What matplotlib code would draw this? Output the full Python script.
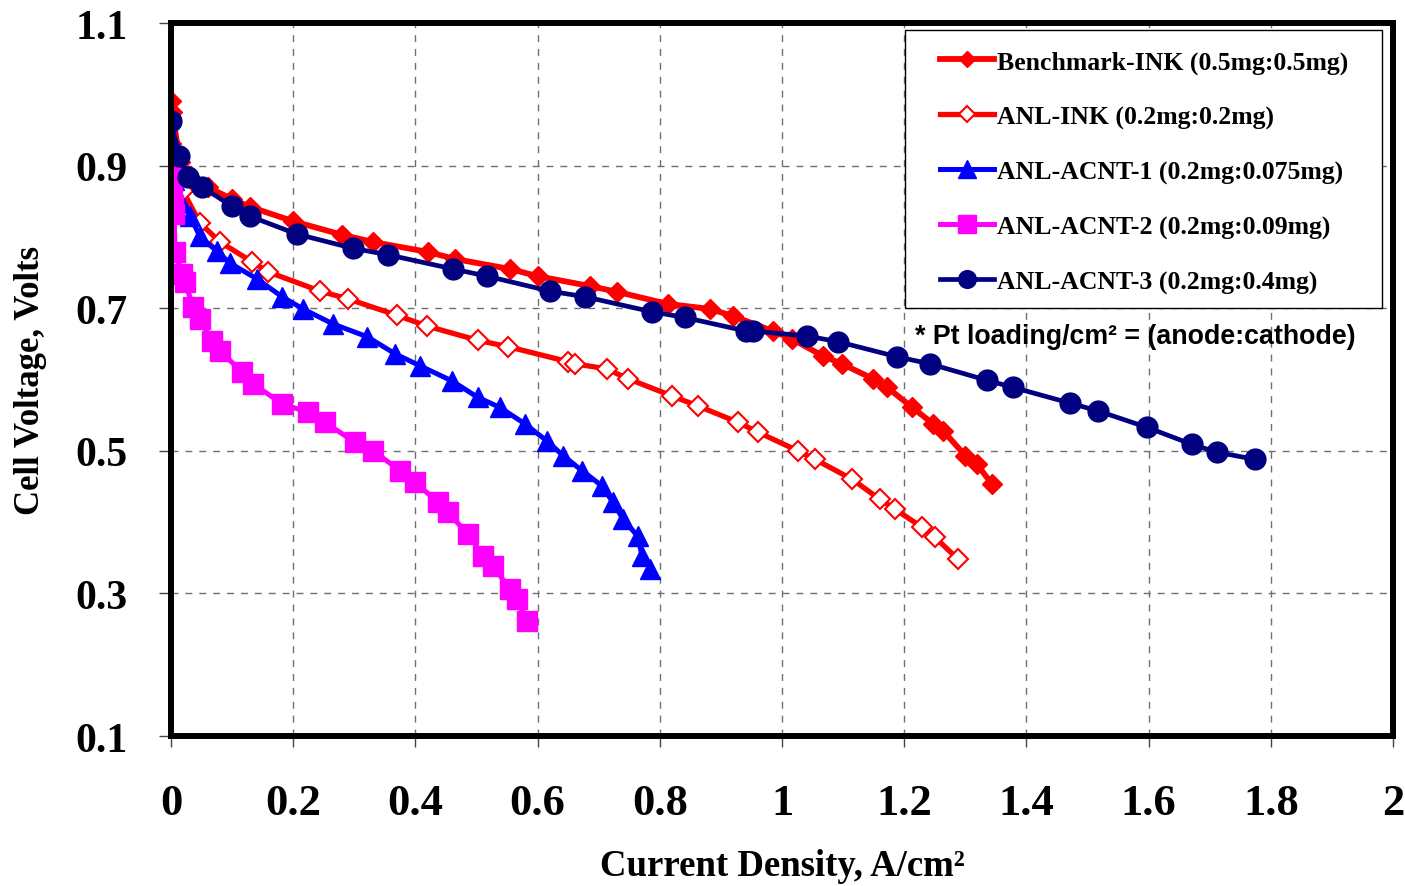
import matplotlib
matplotlib.use("Agg")
import matplotlib.pyplot as plt
from matplotlib.patches import Rectangle

# Polarisationskurven, Werte
bench_x = [0, 0.002, 0.015, 0.03, 0.06, 0.1, 0.13, 0.2, 0.28, 0.33, 0.42, 0.465, 0.555, 0.60,
           0.686, 0.73, 0.813, 0.882, 0.92, 0.985, 1.016, 1.067, 1.098, 1.149, 1.172, 1.213,
           1.247, 1.264, 1.30, 1.319, 1.344]
bench_y = [0.99, 0.975, 0.905, 0.885, 0.87, 0.853, 0.842, 0.822, 0.803, 0.793, 0.779, 0.769,
           0.755, 0.745, 0.731, 0.723, 0.706, 0.699, 0.689, 0.668, 0.657, 0.633, 0.622, 0.601,
           0.589, 0.561, 0.538, 0.528, 0.493, 0.481, 0.453]

ink_x = [0, 0.005, 0.02, 0.047, 0.08, 0.133, 0.159, 0.244, 0.29, 0.37, 0.419, 0.502, 0.552,
         0.65, 0.661, 0.713, 0.748, 0.82, 0.862, 0.928, 0.961, 1.026, 1.054, 1.115, 1.16,
         1.185, 1.229, 1.25, 1.288]
ink_y = [0.93, 0.90, 0.864, 0.82, 0.793, 0.765, 0.751, 0.724, 0.713, 0.69, 0.675, 0.655,
         0.646, 0.625, 0.622, 0.615, 0.601, 0.577, 0.563, 0.54, 0.526, 0.5, 0.488, 0.46,
         0.432, 0.418, 0.393, 0.379, 0.348]

acnt1_x = [0, 0.005, 0.015, 0.031, 0.047, 0.075, 0.097, 0.141, 0.182, 0.216, 0.265, 0.321,
           0.367, 0.408, 0.46, 0.502, 0.538, 0.579, 0.615, 0.642, 0.673, 0.705, 0.723, 0.74,
           0.764, 0.771, 0.784]
acnt1_y = [0.937, 0.88, 0.85, 0.83, 0.801, 0.78, 0.763, 0.741, 0.716, 0.699, 0.678, 0.66,
           0.636, 0.619, 0.598, 0.575, 0.561, 0.538, 0.514, 0.493, 0.472, 0.451, 0.428, 0.404,
           0.38, 0.352, 0.334]

acnt2_x = [0, 0.001, 0.002, 0.004, 0.005, 0.007, 0.018, 0.023, 0.036, 0.047, 0.067, 0.08,
           0.116, 0.134, 0.182, 0.224, 0.252, 0.301, 0.331, 0.375, 0.399, 0.437, 0.453, 0.486,
           0.511, 0.527, 0.555, 0.566, 0.583]
acnt2_y = [0.898, 0.882, 0.865, 0.845, 0.832, 0.779, 0.748, 0.737, 0.702, 0.685, 0.654, 0.64,
           0.611, 0.594, 0.566, 0.554, 0.54, 0.512, 0.5, 0.472, 0.456, 0.428, 0.414, 0.383,
           0.352, 0.338, 0.306, 0.292, 0.261]

acnt3_x = [0, 0.013, 0.028, 0.051, 0.1, 0.129, 0.206, 0.298, 0.355, 0.462, 0.517, 0.62, 0.678,
           0.787, 0.841, 0.941, 0.952, 1.041, 1.092, 1.188, 1.242, 1.335, 1.378, 1.471, 1.517,
           1.597, 1.671, 1.712, 1.774]
acnt3_y = [0.963, 0.914, 0.884, 0.87, 0.843, 0.829, 0.804, 0.784, 0.775, 0.755, 0.745, 0.724,
           0.716, 0.695, 0.687, 0.668, 0.668, 0.661, 0.653, 0.632, 0.622, 0.599, 0.589, 0.567,
           0.556, 0.533, 0.509, 0.498, 0.488]

labels = ["Benchmark-INK (0.5mg:0.5mg)", "ANL-INK (0.2mg:0.2mg)",
          "ANL-ACNT-1 (0.2mg:0.075mg)", "ANL-ACNT-2 (0.2mg:0.09mg)",
          "ANL-ACNT-3 (0.2mg:0.4mg)"]
x_ticks = [0, 0.2, 0.4, 0.6, 0.8, 1.0, 1.2, 1.4, 1.6, 1.8, 2.0]
x_ticklabels = ["0", "0.2", "0.4", "0.6", "0.8", "1", "1.2", "1.4", "1.6", "1.8", "2"]
y_ticks = [0.1, 0.3, 0.5, 0.7, 0.9, 1.1]
y_ticklabels = ["0.1", "0.3", "0.5", "0.7", "0.9", "1.1"]

serif = "Liberation Serif"

fig = plt.figure(figsize=(14.05, 8.87), dpi=100)
ax = fig.add_axes([0.1217, 0.1691, 0.8698, 0.8038])

ax.plot(bench_x, bench_y, color="#FF0000", lw=4.2, marker="D", ms=10,
        mfc="#FF0000", mec="#FF0000", label=labels[0])
ax.plot(ink_x, ink_y, color="#FF0000", lw=3.8, marker="D", ms=10,
        mfc="white", mec="#FF0000", mew=1.5, label=labels[1])
ax.plot(acnt1_x, acnt1_y, color="#0000FF", lw=3.6, marker="^", ms=14.5,
        mfc="#0000FF", mec="#0000FF", label=labels[2])
ax.plot(acnt2_x, acnt2_y, color="#FF00FF", lw=3.6, marker="s", ms=15,
        mfc="#FF00FF", mec="#FF00FF", label=labels[3])
ax.plot(acnt3_x, acnt3_y, color="#000080", lw=3.4, marker="o", ms=15,
        mfc="#000080", mec="#000080", label=labels[4])

ax.set_xlim(0, 2)
ax.set_ylim(0.1, 1.1)
ax.set_xticks(x_ticks)
ax.set_xticklabels(x_ticklabels, fontsize=32, fontweight="bold", family=serif)
ax.set_yticks(y_ticks)
ax.set_yticklabels(y_ticklabels, fontsize=30, fontweight="bold", family=serif)
ax.tick_params(axis="x", direction="out", length=8, width=1, color="#444444", pad=26)
ax.tick_params(axis="y", direction="out", length=9, width=1, color="#444444", pad=22)

# Gitter gestrichelt
ax.grid(True, linestyle=(0, (5, 5)), lw=1.0, color="#707070")
ax.set_axisbelow(True)

for side in ["left", "top", "bottom", "right"]:
    ax.spines[side].set_linewidth(4.3)
    ax.spines[side].set_color("black")

ax.set_xlabel("Current Density, A/cm²", fontsize=26.5, fontweight="bold", family=serif,
              labelpad=18)
ax.set_ylabel("Cell Voltage, Volts", fontsize=25, fontweight="bold", family=serif,
              labelpad=21)

# Legendenrahmen separat, damit er breiter ist als der Inhalt
box = Rectangle((0.6007, 0.6003), 0.3903, 0.3897, transform=ax.transAxes,
                facecolor="white", edgecolor="black", lw=1.0, zorder=4)
ax.add_patch(box)
leg = ax.legend(loc="upper left", bbox_to_anchor=(0.629, 0.962), borderaxespad=0,
                borderpad=0, frameon=False,
                prop={"family": serif, "weight": "bold", "size": 18.5},
                handlelength=2.1, handletextpad=0.12, labelspacing=1.23,
                markerscale=0.85)
leg.set_zorder(5)

ax.text(1.218, 0.661, "* Pt loading/cm² = (anode:cathode)", fontsize=19.3,
        fontweight="bold", family="Liberation Sans", va="center", ha="left")

fig.savefig("out.png", dpi=100, facecolor="white")
